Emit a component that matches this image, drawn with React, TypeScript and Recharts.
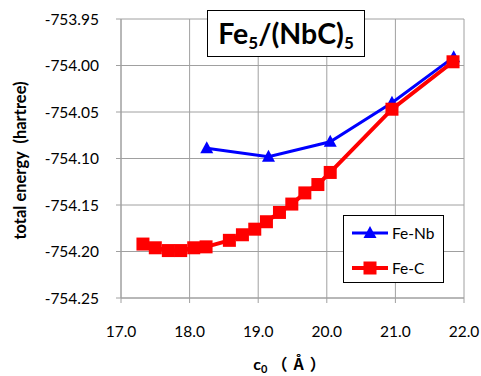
import React from 'react';
import { LineChart, Line, XAxis, YAxis, CartesianGrid, Label } from 'recharts';

const cFeNb = [18.25, 19.15, 20.05, 20.95, 21.85];
const eFeNb = [-754.089, -754.098, -754.082, -754.04, -753.991];
const cFeC = [17.32, 17.5, 17.69, 17.87, 18.06, 18.24, 18.58, 18.77, 18.95, 19.12, 19.31, 19.49, 19.68, 19.87, 20.05, 20.95, 21.84];
const eFeC = [-754.192, -754.196, -754.199, -754.199, -754.196, -754.195, -754.188, -754.182, -754.176, -754.168, -754.158, -754.149, -754.137, -754.128, -754.115, -754.047, -753.996];
const xTicks = [17, 18, 19, 20, 21, 22];
const yTicks = [-754.25, -754.2, -754.15, -754.1, -754.05, -754.0, -753.95];
const seriesNames = ['Fe-Nb', 'Fe-C'];

const feNbData = cFeNb.map((x, i) => ({ x, y: eFeNb[i] }));
const feCData = cFeC.map((x, i) => ({ x, y: eFeC[i] }));

const FONT = "Lato, 'Noto Sans CJK SC', sans-serif";
const BLUE = '#0000ff';
const RED = '#ff0000';

const Triangle = (props: any) => {
  const { cx, cy } = props;
  if (cx == null || cy == null) return null;
  return <polygon points={`${cx},${cy - 7} ${cx - 6.5},${cy + 5} ${cx + 6.5},${cy + 5}`} fill={BLUE} />;
};
const Square = (props: any) => {
  const { cx, cy } = props;
  if (cx == null || cy == null) return null;
  return <rect x={cx - 6.5} y={cy - 6.5} width={13} height={13} fill={RED} />;
};

const YLabel = (props: any) => {
  const vb = props.viewBox || { x: 0, y: 19, width: 121, height: 279 };
  const x = vb.x + 20;
  const y = vb.y + vb.height / 2 + 2;
  return (
    <text x={x} y={y} transform={`rotate(-90 ${x} ${y})`} textAnchor="middle" dominantBaseline="central"
      fontFamily={FONT} fontWeight="bold" fontSize={16.5} fill="#000" style={{ whiteSpace: 'pre' }}>
      {'total energy  (hartree)'}
    </text>
  );
};

const XLabel = (props: any) => {
  const vb = props.viewBox || { x: 121, y: 298, width: 343, height: 78 };
  const x = vb.x + vb.width / 2;
  const y = vb.y + 72;
  return (
    <text x={x} y={y} textAnchor="middle" fontFamily={FONT} fontWeight="bold" fontSize={16} fill="#000" style={{ whiteSpace: 'pre' }}>
      <tspan>c</tspan>
      <tspan dy={3} fontSize={11}>0</tspan>
      <tspan dy={-3} dx={4} letterSpacing={6} fontFamily="'Noto Sans CJK JP', 'Noto Sans CJK SC'">（Å）</tspan>
    </text>
  );
};

const LegendBox = () => (
  <div style={{ position: 'absolute', left: 343, top: 215, boxSizing: 'border-box', width: 101, height: 68, border: '1.5px solid #000', background: '#fff', fontFamily: FONT, fontSize: 15.5, color: '#000' }}>
    {seriesNames.map((name, i) => (
      <div key={name} style={{ position: 'absolute', left: 7, top: i === 0 ? 7 : 42, height: 20, display: 'flex', alignItems: 'center' }}>
        <svg width={38} height={20} style={{ display: 'block' }}>
          <line x1={1} y1={10} x2={37} y2={10} stroke={i === 0 ? BLUE : RED} strokeWidth={i === 0 ? 3 : 4} />
          {i === 0 ? (
            <polygon points="19,3 12.5,15 25.5,15" fill={BLUE} />
          ) : (
            <rect x={12.5} y={3.5} width={13} height={13} fill={RED} />
          )}
        </svg>
        <span style={{ marginLeft: 3, lineHeight: '20px' }}>{name}</span>
      </div>
    ))}
  </div>
);

export default function App() {
  return (
    <div style={{ position: 'absolute', left: 0, top: 0, width: 481, height: 376, background: '#fff' }}>
      <LineChart width={481} height={376} margin={{ top: 19, right: 17, bottom: 0, left: 0 }}>
        <CartesianGrid stroke="#a0a0a0" strokeWidth={1} />
        <XAxis
          type="number"
          dataKey="x"
          domain={[17, 22]}
          ticks={xTicks}
          allowDataOverflow
          tickFormatter={(v: number) => v.toFixed(1)}
          height={78}
          stroke="#a0a0a0"
          tickSize={5}
          tickMargin={23}
          tick={{ fill: '#000', fontFamily: FONT, fontSize: 15.5 }}
        >
          <Label content={<XLabel />} />
        </XAxis>
        <YAxis
          type="number"
          dataKey="y"
          domain={[-754.25, -753.95]}
          ticks={yTicks}
          allowDataOverflow
          tickFormatter={(v: number) => v.toFixed(2)}
          width={121}
          stroke="#a0a0a0"
          tickSize={5}
          tickMargin={17}
          tick={{ fill: '#000', fontFamily: FONT, fontSize: 15.5 }}
        >
          <Label content={<YLabel />} />
        </YAxis>
        <Line data={feNbData} dataKey="y" name={seriesNames[0]} stroke={BLUE} strokeWidth={3} dot={<Triangle />} activeDot={false} isAnimationActive={false} />
        <Line data={feCData} dataKey="y" name={seriesNames[1]} stroke={RED} strokeWidth={4} dot={<Square />} activeDot={false} isAnimationActive={false} />
      </LineChart>
      <LegendBox />
      <div style={{ position: 'absolute', left: 207, top: 10, width: 158, height: 47, boxSizing: 'border-box', border: '1.5px solid #000', background: '#fff', fontFamily: FONT, fontWeight: 'bold', fontSize: 28.5, lineHeight: '44px', textAlign: 'center', color: '#000' }}>
        Fe<sub style={{ fontSize: 17, verticalAlign: '-5px', lineHeight: 0 }}>5</sub>/(NbC)<sub style={{ fontSize: 17, verticalAlign: '-5px', lineHeight: 0 }}>5</sub>
      </div>
    </div>
  );
}
